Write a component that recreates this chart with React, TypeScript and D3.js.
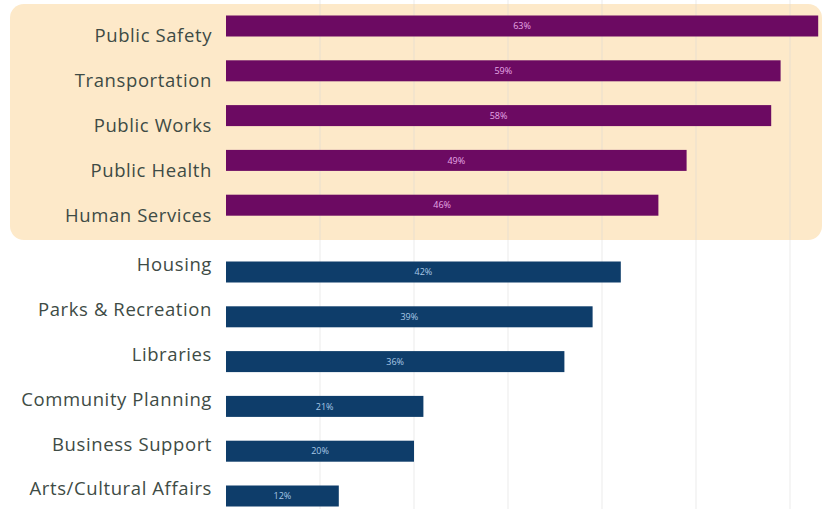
import React from "react";
import * as d3 from "d3";

const categories = [
  "Public Safety",
  "Transportation",
  "Public Works",
  "Public Health",
  "Human Services",
  "Housing",
  "Parks & Recreation",
  "Libraries",
  "Community Planning",
  "Business Support",
  "Arts/Cultural Affairs",
];
const values = [63, 59, 58, 49, 46, 42, 39, 36, 21, 20, 12];
const highlighted = [true, true, true, true, true, false, false, false, false, false, false];
const gridTicks = [10, 20, 30, 40, 50, 60];

const W = 827;
const H = 509;

export default function App() {
  const x = d3.scaleLinear().domain([0, 10]).range([226, 320]);
  const y = d3
    .scalePoint<string>()
    .domain(categories)
    .range([26, 26 + 44.8 * (categories.length - 1)]);
  const bh = 21;
  const groupGap = (i: number) => (highlighted[i] ? 0 : 22);
  const labelShift = (i: number) => (highlighted[i] ? 10 : -7);

  return (
    <svg
      width={W}
      height={H}
      style={{ position: "absolute", left: 0, top: 0, background: "#ffffff" }}
      fontFamily="'Open Sans', sans-serif"
    >
      <rect x={10} y={4} width={812} height={236} rx={14} fill="#fde9c9" />
      {gridTicks.map((t) => (
        <line
          key={t}
          x1={x(t)}
          x2={x(t)}
          y1={0}
          y2={H}
          stroke="#d8d8d8"
          strokeOpacity={0.5}
          strokeWidth={1}
        />
      ))}
      {categories.map((c, i) => {
        const yc = (y(c) as number) + groupGap(i);
        const x0 = x(0);
        const x1 = x(values[i]);
        return (
          <g key={c}>
            <rect
              x={x0}
              y={yc - bh / 2}
              width={x1 - x0}
              height={bh}
              fill={highlighted[i] ? "#6c0a62" : "#0e3d6a"}
            />
            <text
              x={(x0 + x1) / 2}
              y={yc}
              dy="0.35em"
              textAnchor="middle"
              fontSize={9}
              fill={highlighted[i] ? "#e6a8e6" : "#a8c8e6"}
            >
              {values[i]}%
            </text>
            <text
              x={212}
              y={yc + labelShift(i)}
              dy="0.35em"
              textAnchor="end"
              fontSize={18.5}
              letterSpacing={0.6}
              fill="#3e4b45"
            >
              {c}
            </text>
          </g>
        );
      })}
    </svg>
  );
}
